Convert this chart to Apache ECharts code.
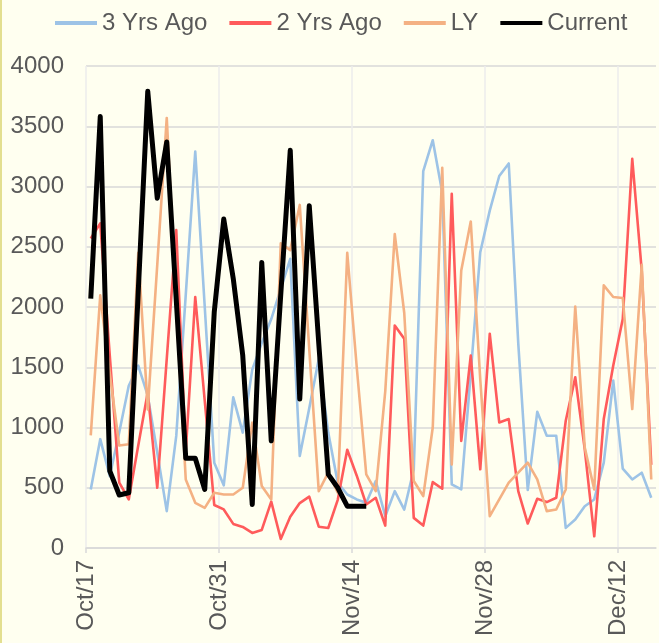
<!DOCTYPE html>
<html><head><meta charset="utf-8">
<script src="https://cdn.jsdelivr.net/npm/echarts@6/dist/echarts.min.js"></script>
<style>
html,body{margin:0;padding:0;background:#fffff0;}
#c{position:absolute;left:0;top:0;width:659px;height:643px;}
#edge{position:absolute;left:0;top:0;width:2px;height:643px;background:#e3df90;z-index:5;}
</style>
</head><body><div id="c"></div><div id="edge"></div>
<script>
// x-axis tick labels and the day index (from Oct/17) where each sits
const tickLabels = ['Oct/17', 'Oct/31', 'Nov/14', 'Nov/28', 'Dec/12'];
const tickDays = [0, 14, 28, 42, 56];
const dayCount = 60;

const seriesNames = ['3 Yrs Ago', '2 Yrs Ago', 'LY', 'Current'];

const threeYrsAgo = [486, 903, 597, 960, 1347, 1514, 1264, 792, 306, 930,
  2100, 3290, 2000, 708, 520, 1250, 958, 1480, 1700, 1900,
  2150, 2400, 764, 1160, 1569, 958, 542, 444, 403, 375,
  556, 264, 472, 319, 650, 3128, 3384, 2950, 528, 486,
  1450, 2455, 2800, 3087, 3191, 1700, 481, 1130, 931, 931,
  167, 236, 347, 403, 708, 1389, 658, 569, 625, 417];

const twoYrsAgo = [2569, 2694, 1600, 542, 403, 850, 1292, 500, 1570, 2639,
  800, 2083, 1220, 357, 320, 200, 175, 125, 150, 385,
  75, 260, 373, 426, 177, 166, 400, 815, 600, 361,
  417, 186, 1847, 1736, 250, 186, 547, 492, 2940, 889,
  1597, 653, 1778, 1042, 1070, 472, 203, 408, 381, 417,
  1056, 1417, 819, 97, 1070, 1514, 1900, 3230, 2300, 690];

const lastYear = [935, 2097, 1450, 850, 861, 2450, 1150, 2350, 3569, 2000,
  569, 375, 333, 458, 444, 444, 500, 1040, 514, 403,
  2528, 2472, 2847, 1650, 472, 625, 458, 2450, 1500, 611,
  472, 1300, 2606, 1950, 556, 431, 1000, 3156, 694, 2303,
  2710, 1400, 264, 403, 542, 625, 708, 569, 306, 319,
  486, 2003, 833, 486, 2180, 2083, 2075, 1153, 2350, 569];

const current = [2069, 3580, 640, 440, 458, 2130, 3790, 2903, 3370, 2060,
  745, 745, 486, 1958, 2730, 2236, 1597, 361, 2370, 889,
  2103, 3300, 1236, 2840, 1700, 611, 500, 347, 347, 347];

const colors = ['#9dc3e6', '#ff5b5b', '#f4b183', '#000000'];
const widths = [2.6, 2.6, 2.6, 5];
const allData = [threeYrsAgo, twoYrsAgo, lastYear, current];

const font = "'Liberation Sans', Arial, sans-serif";
const txt = '#595959';

const chart = echarts.init(document.getElementById('c'), null, {renderer: 'canvas'});
chart.setOption({
  animation: false,
  backgroundColor: '#fffff0',
  textStyle: {fontFamily: font},
  legend: {
    top: 6, left: 50,
    itemWidth: 42, itemHeight: 4, itemGap: 22,
    textStyle: {fontSize: 24, color: txt, fontFamily: font},
    data: seriesNames.map(function (n, k) {
      return {name: n, icon: 'rect', itemStyle: {color: colors[k]}};
    })
  },
  grid: {left: 86, right: 3, top: 66, bottom: 95, containLabel: false},
  xAxis: {
    type: 'value', min: 0, max: dayCount, interval: 7,
    axisLine: {show: true, lineStyle: {color: '#d9d9d9', width: 1.5}},
    axisTick: {show: true, length: 5, lineStyle: {color: '#d9d9d9', width: 1.5}, customValues: tickDays},
    splitLine: {show: true, lineStyle: {color: '#ececec', width: 1.5}},
    axisLabel: {
      customValues: tickDays,
      rotate: 90, margin: 12, fontSize: 24, color: txt, fontFamily: font,
      formatter: function (v) { const i = tickDays.indexOf(Math.round(v)); return i >= 0 ? tickLabels[i] : ''; }
    }
  },
  yAxis: {
    type: 'value', min: 0, max: 4000, interval: 500,
    axisLine: {show: false}, axisTick: {show: false},
    splitLine: {show: true, lineStyle: {color: '#d9d9d9', width: 1.5}},
    axisLabel: {fontSize: 24, color: txt, margin: 22, fontFamily: font,
      formatter: function (v) { return String(v); }}
  },
  series: allData.map(function (arr, k) {
    return {
      name: seriesNames[k], type: 'line', symbol: 'none', smooth: false,
      data: arr.map(function (v, i) { return [i + 0.5, v]; }),
      lineStyle: {color: colors[k], width: widths[k], join: 'round'},
      itemStyle: {color: colors[k]},
      z: 2 + k
    };
  })
});
</script></body></html>
